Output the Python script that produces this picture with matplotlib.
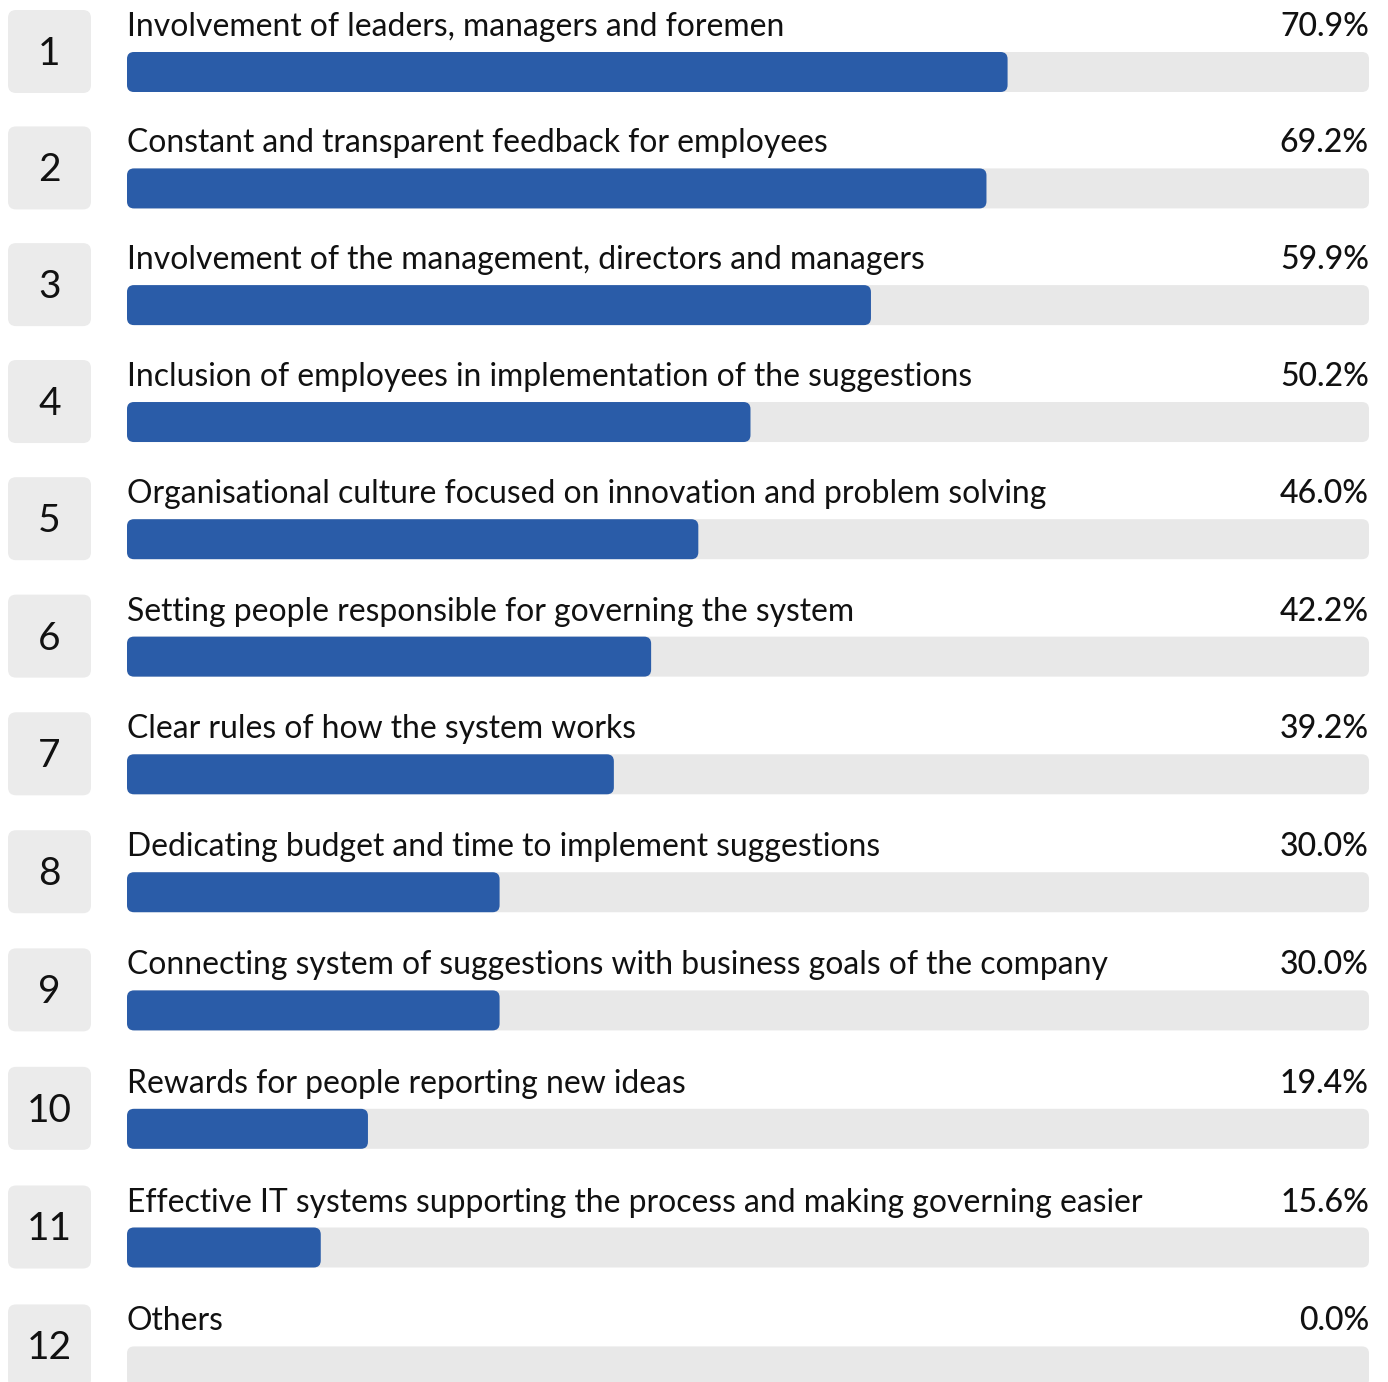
import matplotlib.pyplot as plt
from matplotlib.patches import FancyBboxPatch

labels = [
    "Involvement of leaders, managers and foremen",
    "Constant and transparent feedback for employees",
    "Involvement of the management, directors and managers",
    "Inclusion of employees in implementation of the suggestions",
    "Organisational culture focused on innovation and problem solving",
    "Setting people responsible for governing the system",
    "Clear rules of how the system works",
    "Dedicating budget and time to implement suggestions",
    "Connecting system of suggestions with business goals of the company",
    "Rewards for people reporting new ideas",
    "Effective IT systems supporting the process and making governing easier",
    "Others",
]
values = [70.9, 69.2, 59.9, 50.2, 46.0, 42.2, 39.2, 30.0, 30.0, 19.4, 15.6, 0.0]

BLUE = "#2a5ca8"
TRACK = "#e8e8e8"
BOX = "#ebebeb"
INK = "#111111"

W, H = 1388, 1382
plt.rcParams["font.family"] = ["Lato", "DejaVu Sans"]

fig = plt.figure(figsize=(W / 100, H / 100), dpi=100)
ax = fig.add_axes([0, 0, 1, 1])
ax.axis("off")

# x axis: 0..100 % spans the track; y axis in pixels from the top
px_x = 1242 / 100.0
ax.set_xlim(-127 / px_x, (W - 127) / px_x)
ax.set_ylim(H, 0)
aspect = px_x          # y units per x unit, in pixels


def row_top(i):
    # rows get slightly taller further down the list
    return 52 + 116.3 * i + 0.125 * i * i


def rounded(x, y, w, h, color, r_px):
    p = FancyBboxPatch((x, y), w, h,
                       boxstyle=f"round,pad=0,rounding_size={r_px / px_x}",
                       mutation_aspect=aspect, fc=color, ec="none")
    ax.add_patch(p)


for i, (lab, v) in enumerate(zip(labels, values)):
    top = row_top(i)
    # track and filled bar
    rounded(0, top, 100, 40, TRACK, 7)
    if v > 0:
        rounded(0, top, v, 40, BLUE, 7)
    # number box on the left
    bx0, bx1 = -119 / px_x, -36 / px_x
    rounded(bx0, top - 42, bx1 - bx0, 83, BOX, 8)
    ax.text((bx0 + bx1) / 2, top + 13, str(i + 1), fontsize=28,
            color=INK, ha="center", va="baseline")
    # label and value above the bar
    ax.text(0, top - 16, lab, fontsize=22.95, color=INK,
            ha="left", va="baseline")
    ax.text(100, top - 16, f"{v:.1f}%", fontsize=23, color=INK,
            fontweight="medium", ha="right", va="baseline")

fig.savefig("out.png", dpi=100, facecolor="white")
